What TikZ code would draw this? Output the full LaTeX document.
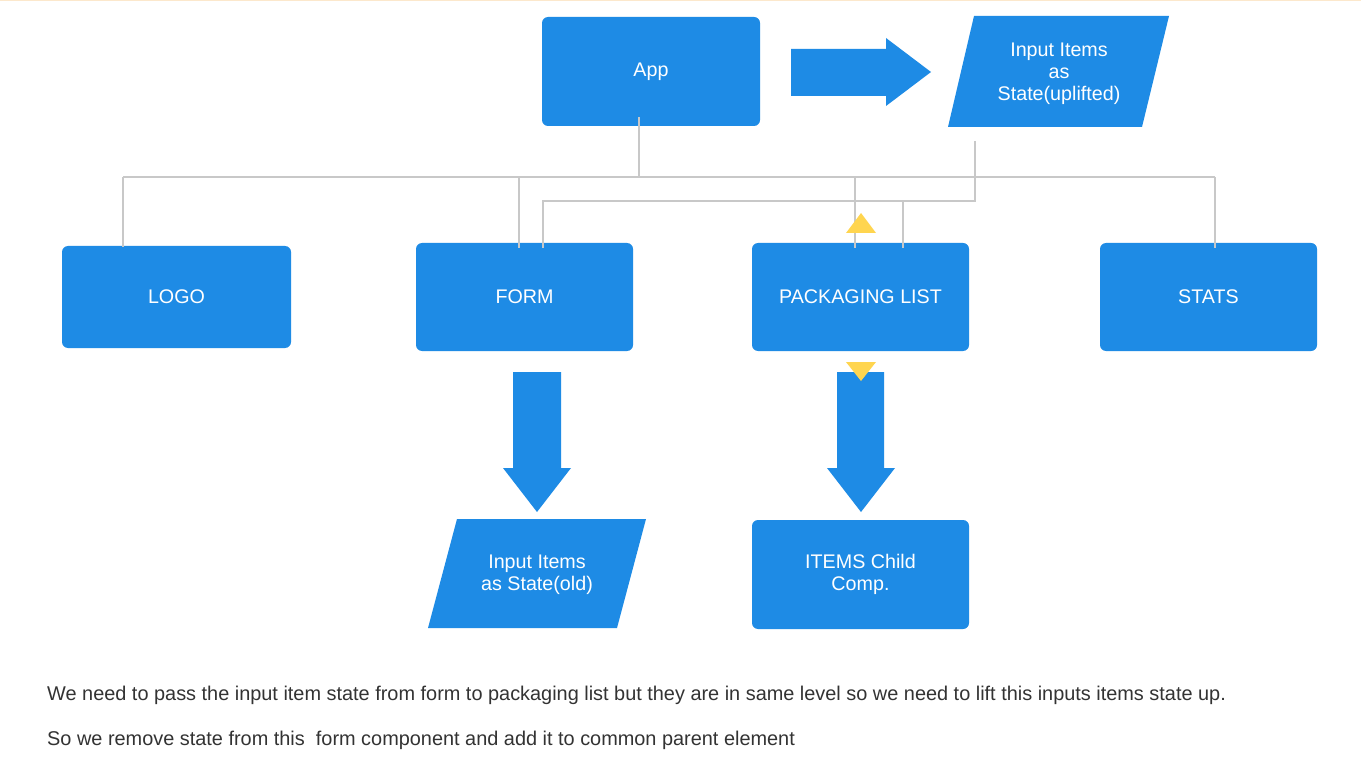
\documentclass[tikz,border=0pt]{standalone}
\usepackage{fontspec}
\setmainfont{Liberation Sans}
\definecolor{myblue}{HTML}{1E8BE5}
\definecolor{linegray}{HTML}{C8C8C8}
\definecolor{myyellow}{HTML}{FFD54F}
\definecolor{topline}{HTML}{FCE8CC}
\definecolor{txtgray}{HTML}{333333}
\begin{document}
\begin{tikzpicture}[x=1pt,y=-1pt,
  blbox/.style={fill=myblue, rounded corners=6pt, text=white, align=center,
    font=\fontsize{19.7}{22}\selectfont, inner sep=0pt},
  ptext/.style={text=white, align=center, font=\fontsize{19.7}{22}\selectfont, inner sep=0pt},
  conn/.style={draw=linegray, line width=1.3pt},
  blarrow/.style={fill=myblue},
  ytri/.style={fill=myyellow},
  note/.style={text=txtgray, anchor=west, font=\fontsize{19.9}{22}\selectfont, inner sep=0pt}]
\useasboundingbox (0,0) rectangle (1361,770);
\fill[white] (0,0) rectangle (1361,770);
\fill[topline] (0,0) rectangle (1361,1.5);

% boxes
\node[blbox, minimum width=218pt, minimum height=109pt] (app) at (651,71.5) {\raisebox{-3pt}{App}};
\node[blbox, minimum width=229pt, minimum height=102pt] (logo) at (176.5,297) {LOGO};
\node[blbox, minimum width=217pt, minimum height=108pt] (form) at (524.5,297) {FORM};
\node[blbox, minimum width=217pt, minimum height=108pt] (pack) at (860.5,297) {PACKAGING LIST};
\node[blbox, minimum width=217pt, minimum height=108pt] (stats) at (1208.5,297) {STATS};
\node[blbox, minimum width=217pt, minimum height=109pt] (items) at (860.5,574.5) {ITEMS Child\\ Comp.};

% parallelograms
\fill[myblue] (974,16) -- (1169,16) -- (1142,127) -- (948,127) -- cycle;
\node[ptext] (upl) at (1059,74) {Input Items\\as\\State(uplifted)};
\fill[myblue] (457,519) -- (646,519) -- (617,628) -- (428,628) -- cycle;
\node[ptext] (old) at (537,575) {Input Items\\as State(old)};

% block arrows
\fill[blarrow] (791,49) -- (886,49) -- (886,38) -- (931,72) -- (886,106) -- (886,96) -- (791,96) -- cycle;
\fill[blarrow] (513,372) -- (561,372) -- (561,468) -- (571,468) -- (537,512) -- (503,468) -- (513,468) -- cycle;
\fill[blarrow] (837,372) -- (884,372) -- (884,468) -- (895,468) -- (861,512) -- (827,468) -- (837,468) -- cycle;

% connector points
\coordinate (appout) at (639,117);
\coordinate (bus1) at (639,177);
\coordinate (bus1L) at (123,177);
\coordinate (bus1R) at (1215,177);
\coordinate (logoin) at (123,247);
\coordinate (formin) at (519,248);
\coordinate (packin) at (855,248);
\coordinate (statsin) at (1215,248);
\coordinate (uplout) at (975,141);
\coordinate (bus2R) at (975,201);
\coordinate (bus2L) at (543,201);
\coordinate (formin2) at (543,248);
\coordinate (packin2) at (903,248);

\draw[conn] (appout) -- (bus1);
\draw[conn] (bus1L) -- (bus1R);
\draw[conn] (bus1L) -- (logoin);
\draw[conn] (formin |- bus1) -- (formin);
\draw[conn] (packin |- bus1) -- (packin);
\draw[conn] (bus1R) -- (statsin);
\draw[conn] (uplout) -- (bus2R) -- (bus2L) -- (formin2);
\draw[conn] (packin2 |- bus2R) -- (packin2);

% yellow triangles
\fill[ytri] (861,213) -- (876,233) -- (846,233) -- cycle;
\fill[ytri] (846,362) -- (876,362) -- (861,381) -- cycle;

% notes
\node[note] (n1) at (47,695) {We need to pass the input item state from form to packaging list but they are in same level so we need to lift this inputs items state up.};
\node[note] (n2) at (47,740) {So we remove state from this\ \ form component and add it to common parent element};
\end{tikzpicture}
\end{document}
